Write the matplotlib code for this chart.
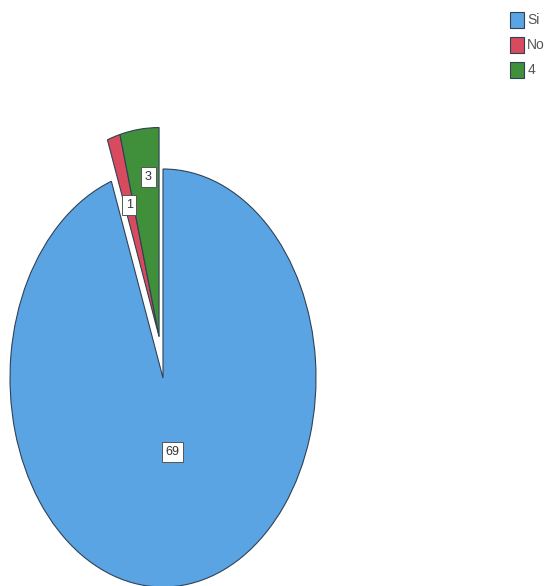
"""
Pie chart: Si / No / 4 counts, stretched vertically like the scanned original.
"""

import numpy as np
import matplotlib

matplotlib.use("Agg")
import matplotlib.pyplot as plt


categories = ["Si", "No", "4"]
counts = [69, 1, 3]

colors = ["#5ba4e3", "#d84a5e", "#3f8f3b"]
explode = [0.0, 0.2, 0.2]
label_dist = [0.36, 0.66, 0.77]

plt.rcParams["font.family"] = ["Liberation Sans", "DejaVu Sans"]

fig = plt.figure(figsize=(5.47, 5.86), dpi=100)

W, H = 547, 586
cx, cy = 163, 586 - 378
rx, ry = 153, 209
lim = 1.3

ax = fig.add_axes([
    (cx - rx * lim) / W,
    (cy - ry * lim) / H,
    2 * rx * lim / W,
    2 * ry * lim / H,
])

wedges, _ = ax.pie(
    counts,
    colors=colors,
    explode=explode,
    startangle=90,
    counterclock=False,
    wedgeprops={"edgecolor": "#2f4156", "linewidth": 0.8},
)

# the two small slices are pulled out together, so they touch each other
wedges[1].set_center(wedges[2].center)

ax.set_aspect("auto")
ax.set_xlim(-lim, lim)
ax.set_ylim(-lim, lim)
ax.axis("off")

# value labels in small white boxes
for w, val, d in zip(wedges, counts, label_dist):
    ang = np.deg2rad((w.theta1 + w.theta2) / 2)
    x0, y0 = w.center
    ax.text(
        x0 + d * np.cos(ang) + (0.03 if val == 3 else 0),
        y0 + d * np.sin(ang),
        str(val),
        ha="center",
        va="center",
        fontsize=9,
        color="#333333",
        bbox=dict(boxstyle="square,pad=0.3", facecolor="white",
                  edgecolor="#555555", linewidth=0.7),
    )

fig.legend(
    wedges,
    categories,
    loc="upper left",
    bbox_to_anchor=(0.927, 0.985),
    frameon=False,
    fontsize=10,
    handlelength=1.05,
    handleheight=1.4,
    handletextpad=0.2,
    labelspacing=0.65,
    borderpad=0.2,
    borderaxespad=0,
    labelcolor="#555555",
)

fig.savefig("out.png", dpi=100)
plt.close()
